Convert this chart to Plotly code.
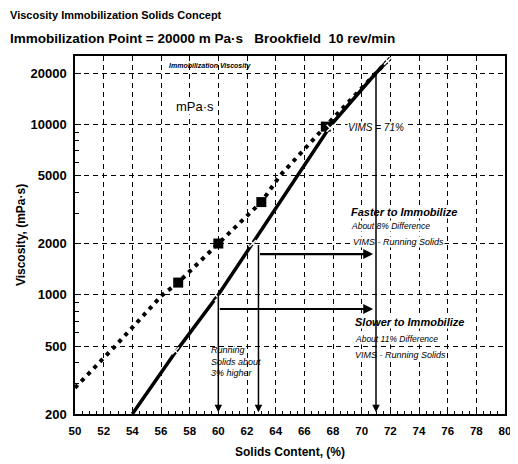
import plotly.graph_objects as go
import math

# ---- data ----
solid_x = [54, 57, 60, 62.4, 67.9, 71, 72]
solid_y = [200, 460, 1000, 2000, 10000, 20000, 24500]
solid_mk_x = [57, 60, 62.4, 67.8, 71.8]
solid_mk_y = [470, 960, 2000, 9500, 23500]

dot_x = [50, 52.8, 56.1, 57.2, 60, 63, 64.3, 67.6, 72]
dot_y = [285, 500, 1000, 1180, 2000, 3500, 5000, 10000, 24500]
dot_mk_x = [57.2, 60, 63, 67.5]
dot_mk_y = [1180, 2000, 3500, 9700]

x_ticks = list(range(50, 81, 2))
y_ticks = [200, 500, 1000, 2000, 5000, 10000, 20000]
y_minor = [300, 400, 600, 700, 800, 900, 3000, 4000, 6000, 7000, 8000, 9000]

FONT = "Liberation Sans, Arial, sans-serif"

fig = go.Figure()
fig.add_trace(go.Scatter(x=dot_x, y=dot_y, mode="lines",
                         line=dict(color="black", width=4, dash="4px,5px"),
                         hoverinfo="skip", showlegend=False))
fig.add_trace(go.Scatter(x=dot_mk_x, y=dot_mk_y, mode="markers",
                         marker=dict(symbol="square", size=10, color="black"),
                         showlegend=False))
fig.add_trace(go.Scatter(x=solid_x, y=solid_y, mode="lines",
                         line=dict(color="black", width=3.5),
                         showlegend=False))
fig.add_trace(go.Scatter(x=solid_mk_x, y=solid_mk_y, mode="markers",
                         marker=dict(symbol="x-thin-open", size=7, color="white",
                                     line=dict(color="white", width=1.5)),
                         showlegend=False))

L = math.log10
ann = []
def txt(x, y, t, size=9, xanchor="left", bold=False, italic=True, bg="white"):
    s = t
    if italic:
        s = "<i>" + s + "</i>"
    if bold:
        s = "<b>" + s + "</b>"
    ann.append(dict(x=x, y=L(y), xref="x", yref="y", text=s, showarrow=False,
                    xanchor=xanchor, yanchor="middle", align="left", bgcolor=bg, borderpad=0,
                    font=dict(family=FONT, size=size, color="black")))

txt(56.5, 22000, "Immobilization Viscosity", size=7, bold=True, bg="rgba(0,0,0,0)")
txt(58.35, 12650, "mPa·s", size=13, xanchor="center", italic=False, bg="white")
txt(68.95, 9640, "VIMS = 71%", size=10)
txt(69.2, 3060, "Faster to Immobilize", size=11, bold=True)
txt(69.2, 2535, "About 8% Difference", size=8.5)
txt(69.3, 2040, "VIMS - Running Solids", size=9)
txt(69.45, 693, "Slower to Immobilize", size=11, bold=True)
txt(69.45, 551, "About 11% Difference", size=8.5)
txt(69.45, 444, "VIMS - Running Solids", size=9)
txt(59.45, 405, "Running<br>Solids about<br>3% higher", size=9, bg="rgba(255,255,255,0)")

def arrow(x0, y0, x1, y1, w=1.5, head=2, size=1):
    ann.append(dict(x=x1, y=L(y1), ax=x0, ay=L(y0), xref="x", yref="y",
                    axref="x", ayref="y", text="", showarrow=True,
                    arrowhead=head, arrowsize=size, arrowwidth=w, arrowcolor="black"))

arrow(60, 1000, 60, 205)
arrow(62.8, 2000, 62.8, 205)
arrow(71, 20000, 71, 205)
arrow(60, 826, 70.8, 826, w=2.2, size=0.9)
arrow(62.8, 1735, 70.8, 1735, w=2.2, size=0.9)

# titles (page body has an 8px margin, so the figure is offset by 8px)
PL, PT = 67, 48
PH = 358
PW = 430
def px_to_paper_x(px):
    return (px - 8 - PL) / PW
def py_to_paper_y(py):
    return 1 + (PT + 8 - py) / PH

ann.append(dict(x=px_to_paper_x(8), y=py_to_paper_y(15), xref="paper", yref="paper",
                xanchor="left", yanchor="middle",
                text="<b>Viscosity Immobilization Solids Concept</b>", showarrow=False,
                font=dict(family=FONT, size=11, color="black")))
ann.append(dict(x=px_to_paper_x(8), y=py_to_paper_y(38), xref="paper", yref="paper",
                xanchor="left", yanchor="middle",
                text="<b>Immobilization Point = 20000 m Pa·s   Brookfield  10 rev/min</b>", showarrow=False,
                font=dict(family=FONT, size=13.5, color="black")))

fig.update_layout(
    width=510, height=456,
    margin=dict(l=PL, r=510 - PL - PW, t=PT, b=456 - PT - PH),
    paper_bgcolor="white", plot_bgcolor="white",
    annotations=ann,
    showlegend=False,
)
fig.update_xaxes(range=[50, 80], tickvals=x_ticks, ticktext=[str(v) for v in x_ticks],
                 automargin=False,
                 showgrid=True, gridcolor="black", gridwidth=1, griddash="5px,4px",
                 showline=True, linecolor="black", linewidth=1.5, mirror=True,
                 ticks="inside", ticklen=6, tickcolor="black", zeroline=False,
                 tickfont=dict(family=FONT, size=11.5, color="black", weight="bold"),
                 ticklabelstandoff=5,
                 minor=dict(dtick=0.5, ticks="inside", ticklen=3, tickcolor="black", showgrid=False),
                 title=dict(text="<b>Solids Content, (%)</b>", standoff=12,
                            font=dict(family=FONT, size=12, color="black")))
fig.update_yaxes(type="log", range=[L(200), 4.401], tickvals=y_ticks,
                 ticktext=[str(v) for v in y_ticks],
                 automargin=False,
                 showgrid=True, gridcolor="black", gridwidth=1, griddash="5px,4px",
                 showline=True, linecolor="black", linewidth=1.5, mirror=True,
                 ticks="inside", ticklen=6, tickcolor="black", zeroline=False,
                 tickfont=dict(family=FONT, size=13, color="black", weight="bold"),
                 ticklabelstandoff=4,
                 minor=dict(tickvals=y_minor, ticks="inside", ticklen=4, tickcolor="black", showgrid=False),
                 title=dict(text="<b>Viscosity, (mPa·s)</b>", standoff=2,
                            font=dict(family=FONT, size=12, color="black")))

fig.write_html("out.html")
